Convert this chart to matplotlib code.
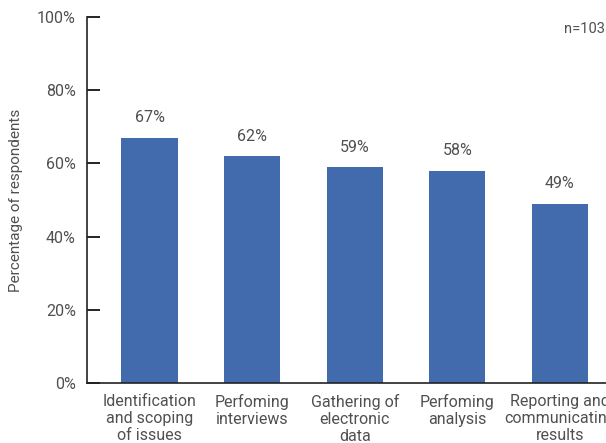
import matplotlib.pyplot as plt

# survey results, share of respondents per activity
categories = ['Identification\nand scoping\nof issues', 'Perfoming\ninterviews',
              'Gathering of\nelectronic\ndata', 'Perfoming\nanalysis',
              'Reporting and\ncommunicating\nresults']
values = [67, 62, 59, 58, 49]
yticks = [0, 20, 40, 60, 80, 100]

bar_color = '#426BAD'
text_color = '#505050'
plt.rcParams['font.family'] = ['Roboto', 'DejaVu Sans']

fig = plt.figure(figsize=(6.06, 4.43), dpi=100)
ax = fig.add_axes([0.1436, 0.1354, 0.8564, 0.8262])

x = range(len(values))
bars = ax.bar(x, values, width=0.55, color=bar_color)
for b, v in zip(bars, values):
    ax.annotate(str(v) + '%', (b.get_x() + b.get_width() / 2, v),
                xytext=(0, 9), textcoords='offset points',
                ha='center', va='bottom', fontsize=11.5, color=text_color)

ax.set_xlim(-0.61, 4.45)
ax.set_ylim(0, 100)
ax.set_yticks(yticks)
ax.set_yticklabels([str(t) + '%' for t in yticks], fontsize=11.5, color=text_color)
ax.set_xticks(list(x))
ax.set_xticklabels(categories, fontsize=11.5, color=text_color, linespacing=1.15)
ax.tick_params(axis='x', length=0, pad=8)
ax.tick_params(axis='y', direction='in', length=9, width=1.2, pad=8)

for s in ['top', 'right']:
    ax.spines[s].set_visible(False)
for s in ['left', 'bottom']:
    ax.spines[s].set_linewidth(1.2)
    ax.spines[s].set_color('#222222')

ax.set_ylabel('Percentage of respondents', fontsize=11, color=text_color, labelpad=10)
fig.text(0.998, 0.935, 'n=103', ha='right', va='center', fontsize=10.5, color=text_color)

fig.savefig('out.png', dpi=100)
